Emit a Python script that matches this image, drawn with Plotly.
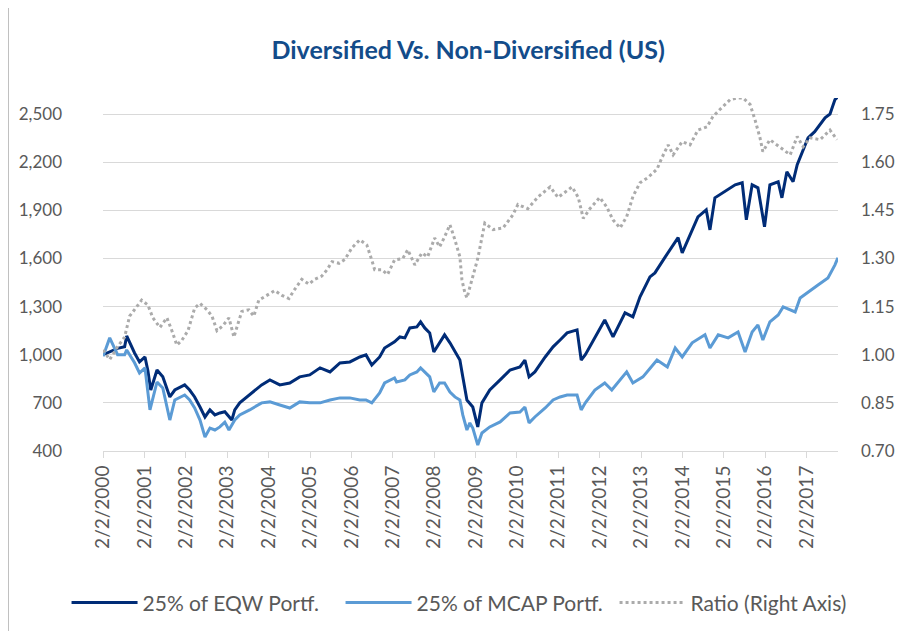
import pandas as pd
import plotly.graph_objects as go

# values; time given as decimal years
eqw_t = [2000.09, 2000.25, 2000.44, 2000.61, 2000.66, 2000.85, 2000.97, 2001.10, 2001.17, 2001.24,
         2001.39, 2001.53, 2001.70, 2001.82, 2002.06, 2002.18, 2002.30, 2002.43, 2002.55, 2002.67,
         2002.79, 2002.91, 2003.03, 2003.20, 2003.27, 2003.39, 2003.63, 2003.92, 2004.12, 2004.36,
         2004.60, 2004.84, 2005.08, 2005.33, 2005.57, 2005.81, 2006.05, 2006.29, 2006.44, 2006.58,
         2006.77, 2006.89, 2007.13, 2007.26, 2007.38, 2007.50, 2007.67, 2007.76, 2007.86, 2007.98,
         2008.08, 2008.22, 2008.34, 2008.47, 2008.59, 2008.71, 2008.78, 2008.88, 2009.02, 2009.14,
         2009.24, 2009.43, 2009.68, 2009.92, 2010.16, 2010.28, 2010.38, 2010.52, 2010.77, 2010.96,
         2011.13, 2011.30, 2011.54, 2011.64, 2011.74, 2011.97, 2012.21, 2012.41, 2012.70, 2012.89,
         2013.06, 2013.30, 2013.42, 2013.67, 2013.84, 2013.98, 2014.08, 2014.32, 2014.46, 2014.66,
         2014.75, 2014.87, 2015.11, 2015.36, 2015.53, 2015.63, 2015.77, 2015.91, 2016.07, 2016.20,
         2016.40, 2016.49, 2016.61, 2016.76, 2016.86, 2016.98, 2017.12, 2017.28, 2017.53, 2017.65,
         2017.77, 2017.84]
eqw = [1000, 1020, 1040, 1050, 1117, 1011, 955, 986, 900, 780,
       905, 862, 737, 780, 812, 780, 737, 674, 612, 656,
       625, 637, 645, 593, 656, 700, 749, 812, 843, 812,
       824, 862, 874, 918, 893, 949, 955, 986, 999, 936,
       986, 1042, 1080, 1111, 1105, 1167, 1173, 1205, 1167, 1136,
       1017, 1074, 1124, 1074, 1017, 967, 862, 718, 674, 550,
       700, 780, 843, 905, 924, 967, 862, 893, 986, 1049,
       1092, 1136, 1155, 967, 1000, 1111, 1217, 1111, 1261, 1236,
       1361, 1485, 1510, 1610, 1672, 1730, 1635, 1778, 1859, 1903,
       1778, 1978, 2016, 2059, 2072, 1841, 2059, 2040, 1797, 2059,
       2078, 1978, 2140, 2078, 2184, 2265, 2352, 2390, 2477, 2500,
       2590, 2607]

mcap_t = [2000.09, 2000.25, 2000.44, 2000.61, 2000.66, 2000.85, 2000.97, 2001.10, 2001.22, 2001.39,
          2001.53, 2001.70, 2001.82, 2002.06, 2002.18, 2002.30, 2002.43, 2002.55, 2002.67, 2002.79,
          2002.91, 2003.03, 2003.13, 2003.27, 2003.39, 2003.63, 2003.92, 2004.12, 2004.36, 2004.60,
          2004.84, 2005.08, 2005.33, 2005.57, 2005.81, 2006.05, 2006.29, 2006.44, 2006.58, 2006.77,
          2006.89, 2007.13, 2007.18, 2007.38, 2007.50, 2007.67, 2007.76, 2007.86, 2007.98, 2008.08,
          2008.22, 2008.34, 2008.47, 2008.59, 2008.71, 2008.78, 2008.88, 2008.95, 2009.02, 2009.14,
          2009.24, 2009.43, 2009.68, 2009.92, 2010.16, 2010.28, 2010.38, 2010.52, 2010.77, 2010.96,
          2011.13, 2011.30, 2011.54, 2011.64, 2011.74, 2011.97, 2012.21, 2012.38, 2012.74, 2012.89,
          2013.13, 2013.47, 2013.72, 2013.91, 2014.08, 2014.32, 2014.63, 2014.75, 2014.95, 2015.19,
          2015.43, 2015.60, 2015.77, 2015.91, 2016.03, 2016.20, 2016.40, 2016.52, 2016.81, 2016.93,
          2017.12, 2017.36, 2017.60, 2017.77, 2017.84]
mcap = [990, 1105, 1000, 1000, 1030, 950, 886, 918, 656, 830,
        793, 593, 718, 749, 718, 668, 593, 487, 543, 531,
        550, 580, 531, 593, 625, 656, 700, 706, 687, 668,
        706, 700, 700, 718, 731, 731, 718, 718, 700, 762,
        824, 855, 830, 843, 874, 893, 918, 893, 862, 768,
        824, 824, 768, 737, 718, 625, 531, 575, 543, 437,
        512, 550, 581, 637, 643, 674, 575, 612, 668, 718,
        737, 749, 749, 656, 700, 780, 824, 780, 893, 824,
        862, 967, 924, 1042, 986, 1074, 1124, 1042, 1124, 1105,
        1142, 1017, 1142, 1186, 1092, 1205, 1248, 1298, 1267, 1354,
        1392, 1435, 1479, 1560, 1604]

ratio_t = [2000.09, 2000.25, 2000.44, 2000.61, 2000.73, 2000.85, 2001.02, 2001.17, 2001.29, 2001.46,
           2001.63, 2001.75, 2001.87, 2001.99, 2002.14, 2002.30, 2002.43, 2002.60, 2002.72, 2002.84,
           2002.98, 2003.13, 2003.25, 2003.32, 2003.44, 2003.61, 2003.73, 2003.85, 2004.04, 2004.24,
           2004.41, 2004.58, 2004.70, 2004.89, 2005.06, 2005.20, 2005.37, 2005.50, 2005.62, 2005.79,
           2005.93, 2006.10, 2006.29, 2006.46, 2006.58, 2006.65, 2006.82, 2006.96, 2007.13, 2007.33,
           2007.45, 2007.62, 2007.79, 2007.93, 2008.10, 2008.22, 2008.34, 2008.47, 2008.59, 2008.71,
           2008.76, 2008.83, 2008.88, 2009.02, 2009.14, 2009.31, 2009.51, 2009.75, 2009.99, 2010.11,
           2010.35, 2010.60, 2010.89, 2011.08, 2011.42, 2011.57, 2011.69, 2011.85, 2012.09, 2012.26,
           2012.41, 2012.58, 2012.74, 2012.89, 2013.06, 2013.25, 2013.47, 2013.59, 2013.74, 2013.86,
           2014.08, 2014.27, 2014.46, 2014.68, 2014.82, 2014.99, 2015.24, 2015.41, 2015.55, 2015.72,
           2015.84, 2015.96, 2016.03, 2016.20, 2016.37, 2016.52, 2016.69, 2016.86, 2017.00, 2017.17,
           2017.41, 2017.65, 2017.82]
ratio = [1.015, 0.985, 1.025, 1.055, 1.12, 1.14, 1.17, 1.155, 1.115, 1.085,
         1.115, 1.075, 1.03, 1.045, 1.075, 1.145, 1.16, 1.14, 1.12, 1.075,
         1.09, 1.115, 1.055, 1.085, 1.135, 1.14, 1.12, 1.17, 1.185, 1.20,
         1.185, 1.175, 1.20, 1.235, 1.22, 1.235, 1.245, 1.265, 1.29, 1.285,
         1.297, 1.333, 1.358, 1.342, 1.295, 1.265, 1.265, 1.25, 1.295, 1.30,
         1.327, 1.28, 1.317, 1.305, 1.364, 1.336, 1.367, 1.405, 1.358, 1.305,
         1.233, 1.193, 1.177, 1.243, 1.30, 1.41, 1.39, 1.395, 1.436, 1.468,
         1.455, 1.492, 1.523, 1.49, 1.523, 1.49, 1.425, 1.455, 1.49, 1.46,
         1.42, 1.395, 1.43, 1.493, 1.536, 1.552, 1.578, 1.614, 1.654, 1.623,
         1.664, 1.654, 1.70, 1.71, 1.742, 1.764, 1.795, 1.80, 1.80, 1.78,
         1.732, 1.676, 1.633, 1.67, 1.654, 1.64, 1.623, 1.68, 1.648, 1.676,
         1.67, 1.70, 1.67]

tick_years = list(range(2000, 2018))
tick_labels = [f"2/2/{y}" for y in tick_years]


def to_dates(ts):
    out = []
    for t in ts:
        y = int(t)
        out.append(pd.Timestamp(year=y, month=1, day=1) + pd.Timedelta(days=(t - y) * 365.25))
    return out


font = "Lato, 'Open Sans', sans-serif"
grey_txt = "#595959"

fig = go.Figure()
fig.add_trace(go.Scatter(x=to_dates(eqw_t), y=eqw, name="25% of EQW Portf.", mode="lines",
                         line=dict(color="#002C77", width=3)))
fig.add_trace(go.Scatter(x=to_dates(mcap_t), y=mcap, name="25% of MCAP Portf.", mode="lines",
                         line=dict(color="#5B9BD5", width=3)))
fig.add_trace(go.Scatter(x=to_dates(ratio_t), y=ratio, name="Ratio (Right Axis)", mode="lines",
                         line=dict(color="#ABABAB", width=3, dash="dot"), yaxis="y2"))

# the page body adds an 8px offset, so margins are trimmed by 8 on top/left
fig.update_layout(
    width=913, height=631,
    margin=dict(l=95, r=83, t=90, b=188, autoexpand=False),
    paper_bgcolor="white", plot_bgcolor="white",
    font=dict(family=font, color=grey_txt),
    title=dict(text="<b>Diversified Vs. Non-Diversified (US)</b>", x=0.504, xanchor="center",
               y=0.9334, yanchor="middle", font=dict(family=font, size=25, color="#134C8A")),
    xaxis=dict(type="date", range=["2000-02-02", "2017-11-05"], automargin=False,
               tickvals=[f"{y}-02-02" for y in tick_years], ticktext=tick_labels,
               tickangle=-90, tickfont=dict(size=19, color=grey_txt),
               ticks="outside", ticklen=6, tickcolor="#D9D9D9",
               showline=True, linecolor="#D9D9D9", linewidth=1, showgrid=False, zeroline=False),
    yaxis=dict(range=[400, 2600], tickvals=list(range(400, 2501, 300)), tickformat=",",
               automargin=False,
               tickfont=dict(size=17, color=grey_txt), ticklabelstandoff=40,
               showgrid=True, gridcolor="#D9D9D9", gridwidth=1, zeroline=False),
    yaxis2=dict(range=[0.70, 1.80], overlaying="y", side="right", automargin=False,
                tickvals=[0.70, 0.85, 1.00, 1.15, 1.30, 1.45, 1.60, 1.75], tickformat=".2f",
                tickfont=dict(size=17, color=grey_txt), ticklabelstandoff=22,
                showgrid=False, zeroline=False),
    legend=dict(orientation="h", x=-0.0496, xanchor="left",
                y=-0.43, yanchor="middle", entrywidth=193,
                font=dict(size=21, color=grey_txt), itemwidth=66, traceorder="normal"),
    showlegend=True,
)

# left edge of the chart frame
fig.add_shape(type="line", xref="paper", yref="paper", x0=-0.1286, x1=-0.1286, y0=-0.55, y1=1.3,
              line=dict(color="#BFBFBF", width=1))

fig.write_html("out.html")
